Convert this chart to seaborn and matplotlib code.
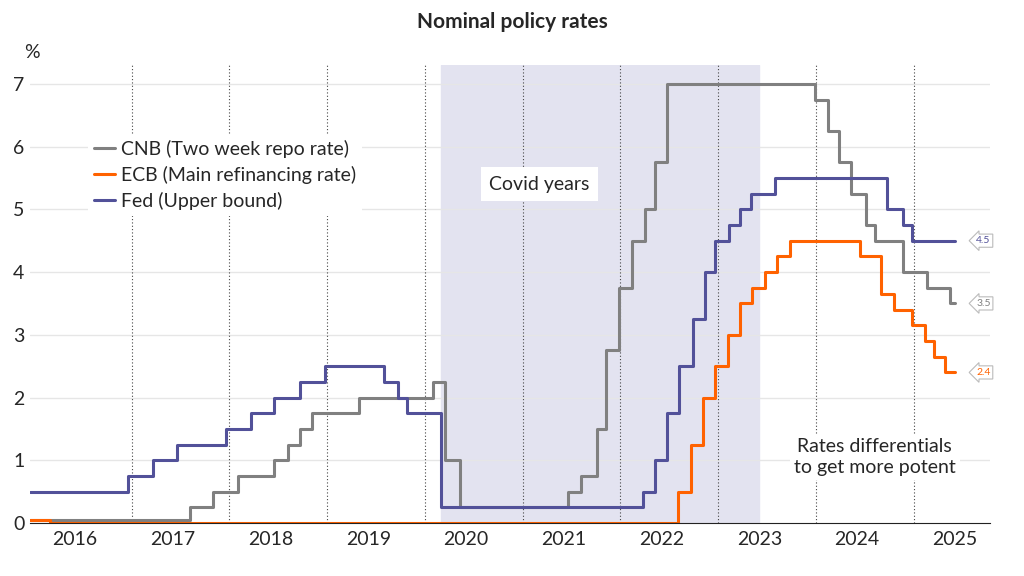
import matplotlib
matplotlib.use("Agg")
import matplotlib.pyplot as plt
import seaborn as sns
import pandas as pd

fed_t = [2015.54, 2016.54, 2016.80, 2017.04, 2017.54, 2017.80, 2018.04, 2018.30, 2018.56, 2019.16, 2019.30, 2019.40,
         2019.74, 2021.81, 2021.93, 2022.06, 2022.18, 2022.32, 2022.44, 2022.55, 2022.69, 2022.80, 2022.92, 2023.16,
         2024.31, 2024.47, 2024.56, 2025.0]
fed_v = [0.5, 0.75, 1.0, 1.25, 1.5, 1.75, 2.0, 2.25, 2.5, 2.25, 2.0, 1.75, 0.25, 0.5, 1.0, 1.75, 2.5, 3.25, 4.0,
         4.5, 4.75, 5.0, 5.25, 5.5, 5.0, 4.75, 4.5, 4.5]
cnb_t = [2015.54, 2017.18, 2017.41, 2017.67, 2018.04, 2018.18, 2018.30, 2018.42, 2018.91, 2019.66, 2019.79, 2019.94,
         2021.04, 2021.18, 2021.34, 2021.43, 2021.57, 2021.70, 2021.83, 2021.93, 2022.06, 2023.57, 2023.70, 2023.82,
         2023.94, 2024.09, 2024.18, 2024.47, 2024.72, 2024.95, 2025.0]
cnb_v = [0.05, 0.25, 0.5, 0.75, 1.0, 1.25, 1.5, 1.75, 2.0, 2.25, 1.0, 0.25, 0.5, 0.75, 1.5, 2.75, 3.75, 4.5, 5.0,
         5.75, 7.0, 6.75, 6.25, 5.75, 5.25, 4.75, 4.5, 4.0, 3.75, 3.5, 3.5]
ecb_t = [2015.54, 2015.74, 2022.17, 2022.30, 2022.42, 2022.55, 2022.68, 2022.80, 2022.93, 2023.06, 2023.18, 2023.31,
         2024.03, 2024.25, 2024.38, 2024.56, 2024.69, 2024.79, 2024.90, 2025.0]
ecb_v = [0.05, 0.0, 0.5, 1.25, 2.0, 2.5, 3.0, 3.5, 3.75, 4.0, 4.25, 4.5, 4.25, 3.65, 3.4, 3.15, 2.9, 2.65, 2.4, 2.4]

series = ["CNB (Two week repo rate)", "ECB (Main refinancing rate)", "Fed (Upper bound)"]
colors = ["#808080", "#FF6200", "#525199"]
end_labels = ["3.5", "2.4", "4.5"]
years = list(range(2016, 2026))

df = pd.concat([
    pd.DataFrame({"t": cnb_t, "v": cnb_v, "s": series[0]}),
    pd.DataFrame({"t": ecb_t, "v": ecb_v, "s": series[1]}),
    pd.DataFrame({"t": fed_t, "v": fed_v, "s": series[2]}),
])

sns.set_style("white")
plt.rcParams["font.family"] = ["Lato", "DejaVu Sans"]
fig = plt.figure(figsize=(10.24, 5.76), dpi=100)
ax = fig.add_axes([30/1024, 53/576, 960/1024, 458/576])
ax.axvspan(2019.74, 2023.0, color="#E3E3F0", zorder=0)
for y in range(1, 8):
    ax.axhline(y, color="#E6E6E6", lw=1, zorder=0.5)
for yr in years[:-1]:
    ax.axvline(yr + 0.58, color="#444444", lw=0.8, ls=(0, (1, 2)), zorder=0.6)
sns.lineplot(data=df, x="t", y="v", hue="s", palette=colors, drawstyle="steps-post", lw=2.2,
             ax=ax, legend=True, estimator=None, sort=False)
ax.set_xlim(2015.54, 2025.36)
ax.set_ylim(0, 7.3)
ax.set_xticks(years)
ax.set_xticklabels([str(y) for y in years], fontsize=14)
ax.set_yticks(range(0, 8))
ax.set_yticklabels([str(y) for y in range(8)], fontsize=14)
ax.tick_params(axis="x", length=0, pad=6)
ax.tick_params(axis="y", length=0, pad=4)
ax.set_xlabel(""); ax.set_ylabel("")
for s in ["top", "right", "left"]:
    ax.spines[s].set_visible(False)
ax.spines["bottom"].set_color("#222222")
leg = ax.legend(loc="upper left", bbox_to_anchor=(0.05, 0.87), fontsize=14, frameon=True,
                edgecolor="none", facecolor="white", framealpha=1, handlelength=1.1, borderpad=0.3,
                labelspacing=0.4, fancybox=False, handletextpad=0.3)
for h in leg.get_lines():
    h.set_linewidth(2.2)
ax.text(2020.75, 5.4, "Covid years", fontsize=14, ha="center", va="center",
        bbox=dict(facecolor="white", edgecolor="none", pad=6))
ax.text(2024.18, 1.05, "Rates differentials\nto get more potent", fontsize=14, ha="center", va="center",
        linespacing=1.25, bbox=dict(facecolor="white", edgecolor="none", pad=3))
for val, c, lbl in zip([3.5, 2.4, 4.5], colors, end_labels):
    ax.annotate(lbl, xy=(2025.05, val), xytext=(2025.22, val), fontsize=7.5, color=c, va="center",
                bbox=dict(boxstyle="larrow,pad=0.2", facecolor="white", edgecolor="#BBBBBB", lw=0.8))
fig.text(24/1024, 1 - 58/576, "%", fontsize=14)
fig.text(0.5, 1 - 22/576, "Nominal policy rates", fontsize=15, fontweight="bold", ha="center", va="center")
fig.savefig("out.png", dpi=100)
